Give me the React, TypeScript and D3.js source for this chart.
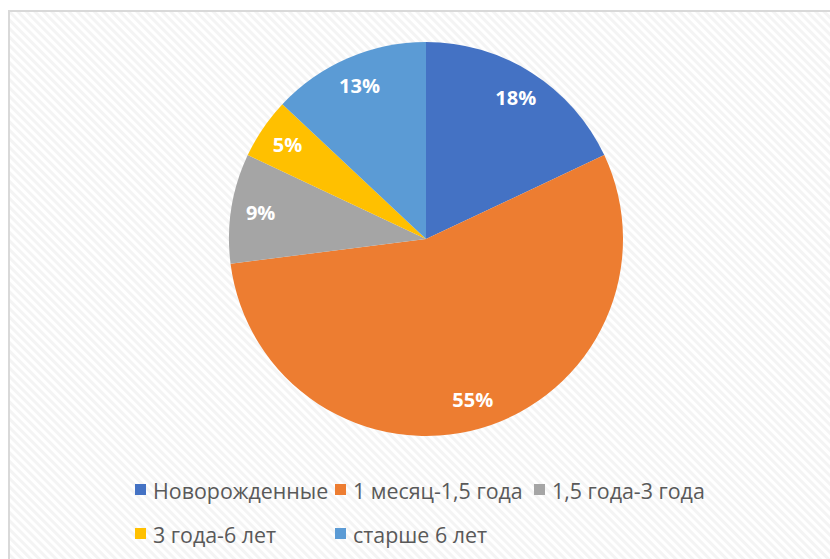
import React, { useMemo } from "react";
import * as d3 from "d3";

const WIDTH = 830;
const HEIGHT = 559;
const CENTER = { x: 426, y: 239 };
const RADIUS = 197;

const categories = ["Новорожденные", "1 месяц-1,5 года", "1,5 года-3 года", "3 года-6 лет", "старше 6 лет"];
const shares = [18, 55, 9, 5, 13];
const labels = ["18%", "55%", "9%", "5%", "13%"];
const colors = ["#4472C4", "#ED7D31", "#A5A5A5", "#FFC000", "#5B9BD5"];

// legend slots (x, y) for each category
const LEGEND_POS = [
	[135, 489],
	[335, 489],
	[534, 489],
	[135, 533],
	[335, 533],
];

export default function App() {
	const arcs = useMemo(() => {
		return d3
			.pie<number>()
			.sort(null)
			.value((d) => d)(shares);
	}, []);

	const arcPath = d3.arc<d3.PieArcDatum<number>>().innerRadius(0).outerRadius(RADIUS);
	const labelArc = d3
		.arc<d3.PieArcDatum<number>>()
		.innerRadius(RADIUS * 0.85)
		.outerRadius(RADIUS * 0.85);

	const slices = arcs.map((a, i) => (
		<path key={i} d={arcPath(a) || ""} fill={colors[i]} />
	));

	const sliceLabels = arcs.map((a, i) => {
		const [x, y] = labelArc.centroid(a);
		return (
			<text
				key={i}
				x={x}
				y={y}
				textAnchor="middle"
				dominantBaseline="central"
				fill="#ffffff"
				fontSize={20}
				fontWeight="bold"
				fontFamily="'Open Sans', sans-serif"
			>
				{labels[i]}
			</text>
		);
	});

	const legend = categories.map((c, i) => (
		<g key={i} transform={`translate(${LEGEND_POS[i][0]},${LEGEND_POS[i][1]})`}>
			<rect x={0} y={-5} width={11} height={11} fill={colors[i]} />
			<text
				x={18}
				y={1}
				dominantBaseline="central"
				fill="#595959"
				fontSize={21.4}
				fontFamily="'Open Sans', sans-serif"
			>
				{c}
			</text>
		</g>
	));

	return (
		<svg
			width={WIDTH}
			height={HEIGHT}
			style={{ position: "absolute", left: 0, top: 0 }}
		>
			<defs>
				<pattern
					id="hatch"
					width={6}
					height={6}
					patternUnits="userSpaceOnUse"
					patternTransform="rotate(45)"
				>
					<rect width={6} height={6} fill="#ffffff" />
					<rect width={6} height={3} fill="#f4f4f4" />
				</pattern>
			</defs>
			<rect x={0} y={0} width={WIDTH} height={HEIGHT} fill="#ffffff" />
			<rect
				x={9}
				y={11}
				width={WIDTH + 20}
				height={HEIGHT + 20}
				fill="url(#hatch)"
				stroke="#d9d9d9"
				strokeWidth={2}
			/>
			<g transform={`translate(${CENTER.x},${CENTER.y})`}>
				{slices}
				{sliceLabels}
			</g>
			{legend}
		</svg>
	);
}
